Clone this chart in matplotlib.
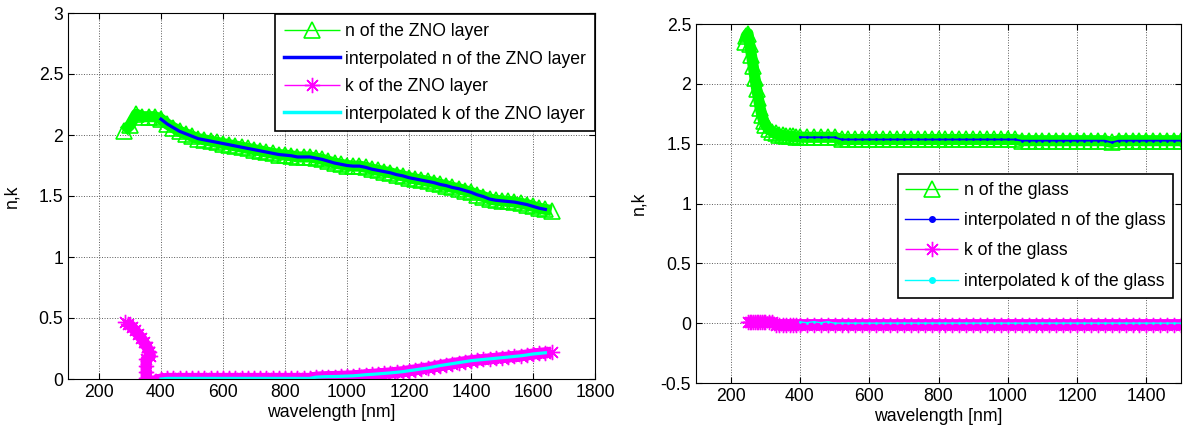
import numpy as np
import matplotlib
matplotlib.use('Agg')
import matplotlib.pyplot as plt
from matplotlib.ticker import FormatStrFormatter

plt.rcParams['font.family'] = ['Liberation Sans', 'DejaVu Sans']
plt.rcParams['font.size'] = 12.7

# --- ZnO layer (left panel) ---
wl_zno = np.arange(280, 1661, 20)
n_zno = [2.03, 2.08, 2.17, 2.15, 2.15, 2.15,
         2.13, 2.09, 2.06, 2.03, 2.01, 1.99, 1.97, 1.96, 1.95, 1.94,
         1.93, 1.92, 1.91, 1.90, 1.89, 1.88, 1.87, 1.86, 1.85, 1.84,
         1.835, 1.83, 1.82, 1.82, 1.82, 1.81, 1.80, 1.785, 1.77, 1.76,
         1.75, 1.745, 1.745, 1.735, 1.72, 1.71, 1.70, 1.69, 1.675, 1.665,
         1.65, 1.64, 1.63, 1.62, 1.61, 1.595, 1.585, 1.57, 1.56, 1.545,
         1.53, 1.51, 1.495, 1.475, 1.465, 1.46, 1.455, 1.45, 1.44, 1.43,
         1.415, 1.40, 1.39, 1.38]

wl_k_zno = [285, 295, 305, 315, 325, 335, 345, 355, 362, 366, 352, 352, 352, 352, 360, 380] \
    + list(range(400, 1661, 20))
k_zno = [0.47, 0.45, 0.43, 0.40, 0.37, 0.34, 0.30, 0.26, 0.22, 0.19, 0.16, 0.11, 0.06, 0.01, -0.02, -0.015,
         0.0,
         0.005, 0.005, 0.005, 0.005, 0.005, 0.005, 0.005, 0.005, 0.005, 0.005, 0.005, 0.005,
         0.005, 0.005, 0.005, 0.005, 0.005, 0.005, 0.005, 0.005, 0.005, 0.005, 0.005, 0.005,
         0.015, 0.018, 0.02, 0.02, 0.022, 0.024, 0.026, 0.03, 0.035, 0.038,
         0.042, 0.046, 0.05, 0.055, 0.06, 0.068, 0.075, 0.083, 0.09, 0.10,
         0.11, 0.118, 0.126, 0.134, 0.142, 0.15, 0.155, 0.16, 0.165, 0.17,
         0.175, 0.18, 0.185, 0.19, 0.197, 0.205, 0.21, 0.215, 0.22]

# --- glass (right panel) ---
wl_glass = [240, 245, 250, 255, 260, 265, 270, 275, 280, 285, 290, 295, 300,
            310, 320, 330, 340, 350, 360, 370, 380, 390, 400] + list(range(420, 1501, 20))
n_glass = [2.35, 2.40, 2.42, 2.33, 2.24, 2.15, 2.05, 1.96, 1.88, 1.80, 1.74, 1.69, 1.66,
           1.62, 1.60, 1.585, 1.575, 1.57, 1.565, 1.56, 1.56, 1.555, 1.555,
           1.553, 1.553, 1.553, 1.553, 1.553,
           1.535, 1.535, 1.535, 1.535, 1.535, 1.535, 1.535, 1.535, 1.535, 1.535, 1.535, 1.535, 1.535,
           1.535, 1.535, 1.535, 1.535, 1.535, 1.535, 1.535, 1.535, 1.535, 1.535, 1.535, 1.535, 1.535,
           1.525, 1.525, 1.525, 1.525, 1.525, 1.525, 1.525, 1.525, 1.525, 1.525, 1.525, 1.525,
           1.525, 1.51, 1.525, 1.525, 1.525, 1.525, 1.525, 1.525, 1.525, 1.525, 1.525, 1.525]
k_glass = [0.01, 0.01, 0.01, 0.01, 0.01, 0.01, 0.01, 0.01, 0.01, 0.01, 0.01, 0.01, 0.01,
           -0.012, -0.012, -0.012, -0.012, -0.012, -0.012, -0.012, -0.012] + [-0.012] * 55
ki_glass = [0.01, 0.004, 0.012, 0.004, 0.012, 0.0] + [0.0] * 50

GREEN = '#00ff00'
BLUE = '#0000ff'
MAGENTA = '#ff00ff'
CYAN = '#00ffff'
STAR = (8, 2, 0)
BAND = 8  # measured points are so dense they merge into a band


def style_axes(ax, xlim, ylim, xticks, yticks):
    ax.set_xlim(*xlim)
    ax.set_ylim(*ylim)
    ax.set_xticks(xticks)
    ax.set_yticks(yticks)
    ax.yaxis.set_major_formatter(FormatStrFormatter('%g'))
    ax.xaxis.set_major_formatter(FormatStrFormatter('%g'))
    ax.tick_params(direction='in', top=True, right=True, length=4, width=0.8, labelsize=12.7)
    ax.grid(True, linestyle=':', color='0.35', linewidth=0.7)
    ax.set_axisbelow(True)
    for s in ax.spines.values():
        s.set_linewidth(0.8)
    ax.set_xlabel('wavelength [nm]', labelpad=2)
    ax.set_ylabel('n,k')


def thin_handles(leg):
    for h in leg.legend_handles:
        h.set_linewidth(1)


fig = plt.figure(figsize=(11.83, 4.41), dpi=100)
ax1 = fig.add_axes([68 / 1183, 62 / 441, 527 / 1183, 366 / 441])
ax2 = fig.add_axes([696 / 1183, 58 / 441, 485 / 1183, 359 / 441])

# left: ZnO
ax1.plot(wl_zno, n_zno, '-^', color=GREEN, mfc='none', mec=GREEN, ms=11, mew=1.2, lw=BAND,
         solid_capstyle='butt', label='n of the ZNO layer')
ax1.plot(wl_zno[6:-1], n_zno[6:-1], '-', color=BLUE, lw=2.3, label='interpolated n of the ZNO layer')
ax1.plot(wl_k_zno, k_zno, '-', marker=STAR, color=MAGENTA, ms=11, mew=1.0, lw=BAND,
         solid_capstyle='butt', label='k of the ZNO layer')
ax1.plot(wl_k_zno[16:-1], k_zno[16:-1], '-', color=CYAN, lw=2.3, label='interpolated k of the ZNO layer')
style_axes(ax1, (100, 1800), (0, 3), range(200, 1801, 200), np.arange(0, 3.01, 0.5))
ax1.yaxis.set_label_coords(-0.09, 0.5)
leg1 = ax1.legend(loc='upper right', bbox_to_anchor=(1.0, 0.997), borderaxespad=0, fancybox=False,
                  framealpha=1, edgecolor='black', handlelength=3.2, handletextpad=0.3,
                  labelspacing=0.6, borderpad=0.5)
leg1.get_frame().set_linewidth(1.2)
thin_handles(leg1)
for h in leg1.legend_handles[1::2]:
    h.set_linewidth(2.5)

# right: glass
ax2.plot(wl_glass, n_glass, '-^', color=GREEN, mfc='none', mec=GREEN, ms=11, mew=1.2, lw=BAND,
         solid_capstyle='butt', label='n of the glass')
ax2.plot(wl_glass[22:], n_glass[22:], '.-', color=BLUE, ms=2, lw=1.3, label='interpolated n of the glass')
ax2.plot(wl_glass[2:], k_glass, '-', marker=STAR, color=MAGENTA, ms=11, mew=1.0, lw=BAND,
         solid_capstyle='butt', label='k of the glass')
ax2.plot(wl_glass[22:], ki_glass, '.-', color=CYAN, ms=2, lw=1.0, label='interpolated k of the glass')
style_axes(ax2, (100, 1500), (-0.5, 2.5), range(200, 1401, 200), np.arange(-0.5, 2.51, 0.5))
ax2.yaxis.set_label_coords(-0.1, 0.5)
leg2 = ax2.legend(loc='upper right', bbox_to_anchor=(0.984, 0.582), borderaxespad=0, fancybox=False,
                  framealpha=1, edgecolor='black', handlelength=3.0, handletextpad=0.3,
                  labelspacing=0.75, borderpad=0.45)
leg2.get_frame().set_linewidth(1.2)
thin_handles(leg2)
for h in leg2.legend_handles[1::2]:
    h.set_markersize(8)

fig.savefig('out.png', dpi=100)
